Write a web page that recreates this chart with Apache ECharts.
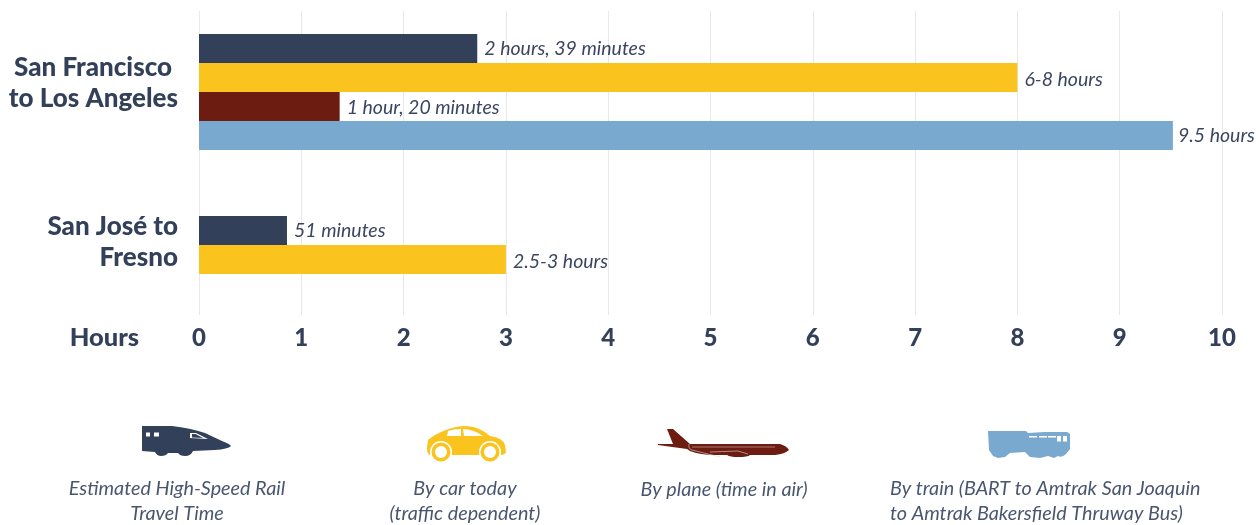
<!DOCTYPE html>
<html><head><meta charset="utf-8">
<style>html,body{margin:0;padding:0;background:#fff}#c{width:1259px;height:525px}</style>
<script src="https://cdn.jsdelivr.net/npm/echarts@6/dist/echarts.min.js"></script>
</head><body><div id="c"></div>
<script>
const routes = ['San Francisco\nto Los Angeles', 'San José to\nFresno'];
const ticks = [0,1,2,3,4,5,6,7,8,9,10];
const seriesNames = ['Estimated High-Speed Rail\nTravel Time','By car today\n(traffic dependent)','By plane (time in air)','By train (BART to Amtrak San Joaquin\nto Amtrak Bakersfield Thruway Bus)'];
const hsr = [2.72, 0.86];
const car = [8, 3];
const plane = [1.375, null];
const train = [9.52, null];
const hsrLabels = ['2 hours, 39 minutes','51 minutes'];
const carLabels = ['6-8 hours','2.5-3 hours'];
const planeLabels = ['1 hour, 20 minutes',''];
const trainLabels = ['9.5 hours',''];
const NAVY='#334059', YEL='#fac31e', RED='#6c1c11', BLUE='#7aa9cf', TXT='#3a4661';
const BOLD='Lato', ITAL='Lato';

function bar(name,vals,labels,color,dx,dy){
  return {type:'bar',name,xAxisIndex:1,yAxisIndex:1,data:vals,barWidth:29,barGap:0,
    itemStyle:{color},
    label:{show:true,position:'right',distance:7,offset:[dx,dy],color:TXT,fontFamily:ITAL,fontStyle:'italic',fontSize:19.5,
      formatter:p=>labels[p.dataIndex]}};
}
let pid=0;
const shapeType=d=>{const n='iconPath'+(pid++);echarts.graphic.registerShape(n,echarts.graphic.extendPath(d));return n;};
const path=(d,fill)=>({type:shapeType(d),style:{fill}});
const circ=(cx,cy,r,fill)=>({type:'circle',shape:{cx,cy,r},style:{fill}});
const rect=(x,y,w,h,fill)=>({type:'rect',shape:{x,y,width:w,height:h},style:{fill}});
const line=(d,w)=>({type:shapeType(d),style:{fill:'none',stroke:'#e9d5d0',lineWidth:w||0.6}});
const txt=(x,y,t,align)=>({type:'text',x,y,style:{text:t,fill:'#4a5670',font:'italic 19.8px '+ITAL,align,verticalAlign:'top',lineHeight:25}});

const icons=[
 path('M142 426 L172 426 Q190 428 205 433 L222 441 Q230 444 231 446 Q228 449 215 450 L193 451 Q191 456 185 456 Q180 456 178 453 L168 453 Q166 456 161 456 Q157 456 155 452 L142 451 Z',NAVY),
 rect(146,432.5,4,4,'#fff'),rect(154,432.5,5,4,'#fff'),
 path('M190 433 L196 433 L208 439 L190 438 Z','#fff'),path('M192 434 L195.5 434 L203 438 L192 437.5 Z',NAVY),
 path('M427 448 L428 440 Q435 434 446 430 Q456 426 466 426 Q478 426 490 436 Q503 438 505 445 L506 452 Q505 455 500 455 L430 455 Q427 454 427 448Z',YEL),
 path('M447 436 L448 431 Q453 429 461 429 L461 436 Z','#fff'),
 path('M463 429 Q473 429 483 436 L464 436 Z','#fff'),
 circ(441,452,11,'#fff'),circ(441,452,9.5,YEL),circ(441,452,6,'#fff'),
 circ(490,452,11,'#fff'),circ(490,452,9.5,YEL),circ(490,452,6,'#fff'),
 path('M667 429 L673 429 L690 444 L780 444 Q787 446 789 450 Q785 454 775 455 L750 455 Q748 457 738 457 Q730 457 727 455 L715 455 Q700 455 690 451 L687 449 L658 445 L658 444 L673 444 Z',RED),
 line('M689 444 Q688 449 692 450 L720 457'),line('M710 452 L738 451 L748 454'),
 line('M692 447 L775 447',0.5),
 path('M988 431 L1026 431 L1028 433 L1045 432 L1067 432 L1070 434 L1070 449 L1066 454 Q1062 458 1058 456 L1054 458 L1048 456 L1040 458 L1030 457 L1025 452 L1010 453 L1005 457 L998 458 L993 456 L989 450 Z',BLUE),
 rect(1029,436,8,1.5,'#fff'),rect(1039,436,8,1.5,'#fff'),rect(1048,436,8,1.5,'#fff'),
 rect(1057,436,4,5.5,'#fff'),rect(1063,436,4,5.5,'#fff')
];
const texts=[txt(177,476,seriesNames[0],'center'),txt(465,476,seriesNames[1],'center'),txt(724,477,seriesNames[2],'center'),txt(890,476,seriesNames[3],'left')];

const bold={color:NAVY,fontFamily:BOLD,fontWeight:900,fontSize:26,lineHeight:31};
const chart=echarts.init(document.getElementById('c'),null,{renderer:'canvas'});
chart.setOption({
  animation:false,backgroundColor:'#fff',
  grid:[
    {left:199,top:11,width:1023,height:304},
    {left:199,top:1,width:1023,height:364},
    {left:199,top:4,width:1023,height:318}
  ],
  xAxis:[
    {type:'value',gridIndex:0,min:0,max:10,interval:1,
      name:'Hours',nameLocation:'start',nameGap:60,
      nameTextStyle:{color:NAVY,fontFamily:BOLD,fontWeight:900,fontSize:25.5,verticalAlign:'top',padding:[10,0,0,0]},
      axisLine:{show:false},axisTick:{show:false},
      splitLine:{show:true,lineStyle:{color:'#e8e8ea',width:1}},
      axisLabel:{color:NAVY,fontFamily:BOLD,fontWeight:900,fontSize:24,margin:11,formatter:v=>ticks[v]}},
    {type:'value',gridIndex:1,min:0,max:10,interval:1,show:false,splitLine:{show:false}},
    {type:'value',gridIndex:2,min:0,max:10,interval:1,show:false,splitLine:{show:false}}
  ],
  yAxis:[
    {type:'category',gridIndex:0,show:false,data:routes},
    {type:'category',gridIndex:1,inverse:true,show:false,data:routes},
    {type:'category',gridIndex:2,inverse:true,data:routes,
      axisLine:{show:false},axisTick:{show:false},splitLine:{show:false},
      axisLabel:{margin:21,align:'right',interval:0,
        formatter:(v)=>{const ls=v.split('\n');return '{'+(v===routes[0]?'short':'full')+'|'+ls[0]+'}\n{full|'+ls[1]+'}';},
        rich:{full:bold,short:Object.assign({padding:[0,6,0,0]},bold)}}}
  ],
  series:[
    bar(seriesNames[0],hsr,hsrLabels,NAVY,0,0),
    bar(seriesNames[1],car,carLabels,YEL,0,2),
    bar(seriesNames[2],plane,planeLabels,RED,0,1.5),
    bar(seriesNames[3],train,trainLabels,BLUE,-2,0)
  ],
  graphic:{elements:icons.concat(texts)}
});
</script></body></html>
